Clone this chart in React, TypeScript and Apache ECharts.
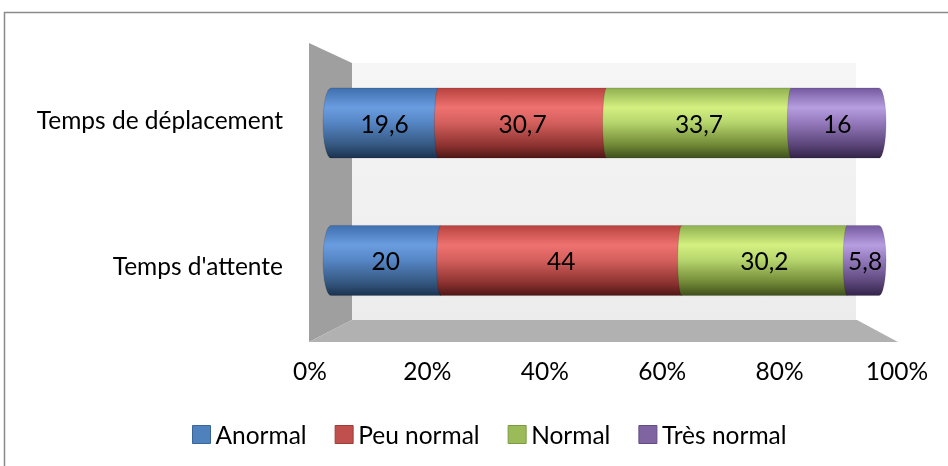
import React, { useEffect, useRef } from "react";
import * as echarts from "echarts";

const categories = ["Temps de déplacement", "Temps d'attente"];
const seriesNames = ["Anormal", "Peu normal", "Normal", "Très normal"];
const anormal = [19.6, 20];
const peuNormal = [30.7, 44];
const normal = [33.7, 30.2];
const tresNormal = [16, 5.8];
const percentTicks = [0, 20, 40, 60, 80, 100];

const flatColors = ["#4f81bd", "#c0504d", "#9bbb59", "#8064a2"];
const borderColors = ["#3a659a", "#9d3b38", "#7b9a40", "#634b82"];
const gradientStops = [
  ["#3f6fae", "#6a9de0", "#5585c4", "#34577f", "#1b3250"],
  ["#b8423f", "#ee7270", "#d35f5c", "#8c3230", "#4f1715"],
  ["#8fb050", "#d4f080", "#b5d46c", "#6f8735", "#3f4f1c"],
  ["#7459a0", "#b79ee0", "#9379bb", "#5a4477", "#33244a"],
];

const FONT = "Lato, 'Open Sans', sans-serif";
const FS = 24.5;

export default function App() {
  const ref = useRef<HTMLDivElement>(null);

  useEffect(() => {
    if (!ref.current) return;
    const chart = echarts.init(ref.current, null, { renderer: "svg" });
    const all = [anormal, peuNormal, normal, tresNormal];

    const series: any[] = all.map((arr, si) => {
      const data = arr.map((v, ci) => {
        let start = 0;
        for (let k = 0; k < si; k++) start += all[k][ci];
        return [ci, start, start + v, v];
      });
      const stops = gradientStops[si];
      return {
        type: "custom",
        name: seriesNames[si],
        xAxisIndex: 0,
        yAxisIndex: 0,
        itemStyle: { color: flatColors[si] },
        encode: { x: [1, 2], y: 0 },
        data,
        renderItem: (params: any, api: any) => {
          const cat = api.value(0);
          const s = api.value(1);
          const e = api.value(2);
          const v = api.value(3);
          const p0 = api.coord([s, cat]);
          const p1 = api.coord([e, cat]);
          const band = api.size([0, 1])[1];
          const h = band * 0.51;
          const yc = p0[1];
          const top = yc - h / 2;
          const bot = yc + h / 2;
          const ry = h / 2;
          const x0 = p0[0];
          const x1 = p1[0];
          const rxL = si === 0 ? 8 : 4;
          const isLast = si === all.length - 1;
          let d = `M ${x0} ${top} L ${x1} ${top} `;
          if (isLast) d += `A 7 ${ry} 0 0 1 ${x1} ${bot} `;
          else d += `L ${x1} ${bot} `;
          d += `L ${x0} ${bot} A ${rxL} ${ry} 0 0 1 ${x0} ${top} Z`;
          return {
            type: "group",
            children: [
              {
                type: "path",
                shape: { pathData: d },
                style: {
                  fill: {
                    type: "linear",
                    x: 0,
                    y: 0,
                    x2: 0,
                    y2: 1,
                    colorStops: [
                      { offset: 0, color: stops[0] },
                      { offset: 0.28, color: stops[1] },
                      { offset: 0.5, color: stops[2] },
                      { offset: 0.82, color: stops[3] },
                      { offset: 1, color: stops[4] },
                    ],
                  },
                  stroke: "rgba(0,0,0,0.18)",
                  lineWidth: 0.8,
                },
              },
              {
                type: "text",
                style: {
                  text: String(v).replace(".", ","),
                  x: (x0 + x1) / 2 + (isLast ? 2 : 0),
                  y: yc,
                  align: "center",
                  verticalAlign: "middle",
                  fill: "#000",
                  font: `${FS}px ${FONT}`,
                },
              },
            ],
          };
        },
      };
    });

    const option: any = {
      animation: false,
      textStyle: { fontFamily: FONT },
      graphic: [
        {
          type: "rect",
          shape: { x: 4.5, y: 12.5, width: 960, height: 480 },
          style: { fill: "#fff", stroke: "#8a8a8a", lineWidth: 1.5 },
          z: -10,
        },
        {
          type: "rect",
          shape: { x: 352, y: 63, width: 504, height: 257 },
          style: {
            fill: {
              type: "linear",
              x: 0,
              y: 0,
              x2: 0,
              y2: 1,
              colorStops: [
                { offset: 0, color: "#f6f6f6" },
                { offset: 1, color: "#ececec" },
              ],
            },
          },
          z: -9,
        },
        {
          type: "polygon",
          shape: { points: [[309, 43], [352, 63], [352, 320], [309, 342]] },
          style: { fill: "#9f9f9f" },
          z: -9,
        },
        {
          type: "polygon",
          shape: { points: [[309, 342], [352, 320], [857, 320], [898, 342]] },
          style: { fill: "#b1b1b1" },
          z: -9,
        },
      ],
      legend: {
        data: seriesNames.map((n, i) => ({
          name: n,
          itemStyle: { color: flatColors[i], borderColor: borderColors[i], borderWidth: 1 },
        })),
        icon: "rect",
        left: 187,
        top: 417,
        itemWidth: 18,
        itemHeight: 18,
        itemGap: 28,
        textStyle: { fontFamily: FONT, fontSize: FS, color: "#000" },
      },
      grid: [
        { left: 331, width: 548, top: 54.25, height: 275 },
        { left: 310, width: 587, top: 300, height: 52 },
        { left: 331, width: 548, top: 46, height: 292 },
      ],
      xAxis: [
        {
          gridIndex: 0,
          type: "value",
          min: 0,
          max: 100,
          show: false,
        },
        {
          gridIndex: 1,
          type: "value",
          min: 0,
          max: 100,
          interval: 20,
          axisLine: { show: false },
          axisTick: { show: false },
          splitLine: { show: false },
          axisLabel: {
            formatter: (val: number) => (percentTicks.includes(val) ? `${val}%` : ""),
            fontFamily: FONT,
            fontSize: FS,
            color: "#000",
            margin: 6,
          },
        },
        { gridIndex: 2, type: "value", min: 0, max: 100, show: false },
      ],
      yAxis: [
        {
          gridIndex: 0,
          type: "category",
          data: categories,
          inverse: true,
          show: false,
        },
        { gridIndex: 1, type: "value", min: 0, max: 1, show: false },
        {
          gridIndex: 2,
          type: "category",
          data: categories,
          inverse: true,
          axisLine: { show: false },
          axisTick: { show: false },
          splitLine: { show: false },
          axisLabel: {
            fontFamily: FONT,
            fontSize: FS,
            color: "#000",
            margin: 48,
          },
        },
      ],
      series,
    };

    chart.setOption(option);
    return () => chart.dispose();
  }, []);

  return (
    <div
      ref={ref}
      style={{ position: "fixed", left: 0, top: 0, width: 948, height: 466 }}
    />
  );
}
